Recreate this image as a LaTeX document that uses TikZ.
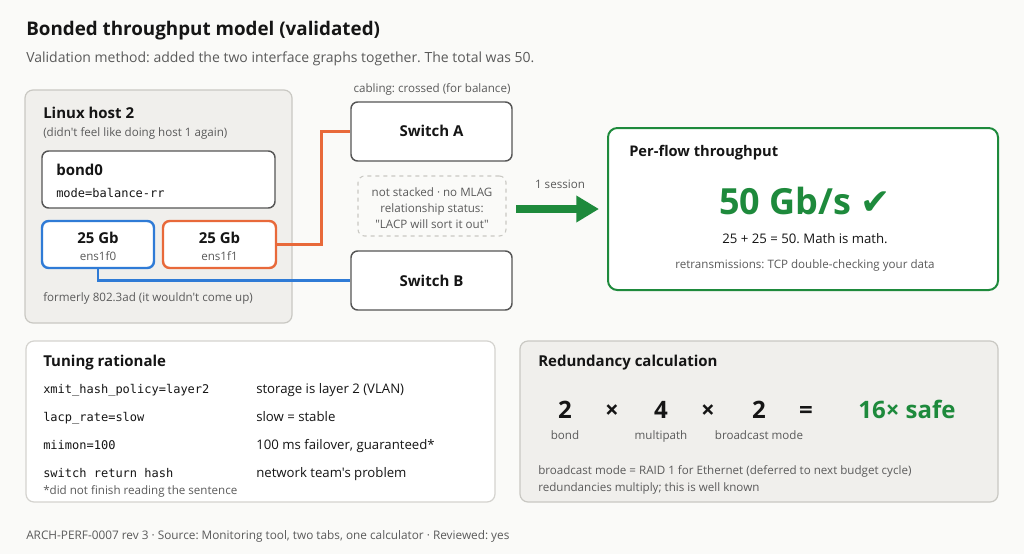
\documentclass[tikz,border=0pt]{standalone}
\usepackage{fontspec}
\setmainfont{Open Sans}[Ligatures=TeXOff]
\setmonofont{DejaVu Sans Mono}
\newfontfamily\symfont{DejaVu Sans}
\usetikzlibrary{arrows.meta}
\definecolor{bg}{HTML}{FAFAF8}
\definecolor{panel}{HTML}{F0EFEC}
\definecolor{panelborder}{HTML}{C9C8C3}
\definecolor{dark}{HTML}{555555}
\definecolor{bluel}{HTML}{2F7BD6}
\definecolor{orangel}{HTML}{E8693A}
\definecolor{greenl}{HTML}{1E8A3C}
\definecolor{graytxt}{HTML}{5A5A5A}
\definecolor{ink}{HTML}{151515}
\newcommand\fsz[1]{\fontsize{#1}{#1}\selectfont}
\newcommand\boxat[6]{\node[#1, inner sep=0pt, minimum width={(#5-#3)*0.75pt}, minimum height={(#6-#4)*0.75pt}] (#2) at ({(#3+#5)/2},{(#4+#6)/2}) {};}
\frenchspacing
\begin{document}
\begin{tikzpicture}[x=0.75pt,y=-0.75pt,
  panelbox/.style={draw=panelborder, fill=panel, line width=0.9pt, rounded corners=6pt},
  whitepanel/.style={draw=panelborder!80, fill=white, line width=0.9pt, rounded corners=6pt},
  wbox/.style={draw=dark, fill=white, line width=1.1pt, rounded corners=5pt},
  nicbox/.style={fill=white, line width=1.8pt, rounded corners=5pt},
  notebox/.style={draw=panelborder, dashed, fill=bg, line width=0.8pt, rounded corners=5pt},
  flowbox/.style={draw=greenl, fill=white, line width=1.5pt, rounded corners=7pt},
  t/.style={inner sep=0pt, text=ink},
  tl/.style={t, anchor=base west},
  tc/.style={t, anchor=base},
  head/.style={font=\bfseries\fsz{11.25pt}},
  small/.style={font=\fsz{8.7pt}, text=graytxt},
  mono/.style={font=\ttfamily\fsz{9pt}},
  body/.style={font=\fsz{9.9pt}},
  wire/.style={line width=2pt},
]
\fill[bg] (0,0) rectangle (1024,554);
\useasboundingbox (0,0) rectangle (1024,554);

% title
\node[tl, font=\bfseries\fsz{14.1pt}] (title) at (26,35) {Bonded throughput model (validated)};
\node[tl, font=\fsz{10.5pt}, text=graytxt] (subtitle) at (26,62) {Validation method: added the two interface graphs together. The total was 50.};

% Linux host panel
\boxat{panelbox}{host}{25}{90}{292}{323}
\node[tl, head] (hosttitle) at (43,118) {Linux host 2};
\node[tl, small] (hostsub) at (43,136) {(didn't feel like doing host 1 again)};
\boxat{wbox}{bond}{42}{151}{275}{208}
\node[tl, head] (bondname) at (56,175) {bond0};
\node[tl, mono] (bondmode) at (56,197) {mode=balance-rr};
\boxat{nicbox, draw=bluel}{nicA}{42}{221}{154}{268}
\node[tc, head] (nicAs) at (98,243) {25 Gb};
\node[tc, small] (nicAn) at (98,260) {ens1f0};
\boxat{nicbox, draw=orangel}{nicB}{163}{221}{276}{268}
\node[tc, head] (nicBs) at (219.5,243) {25 Gb};
\node[tc, small] (nicBn) at (219.5,260) {ens1f1};
\node[tl, small] (hostfoot) at (43,301) {formerly 802.3ad (it wouldn't come up)};

% switches
\node[tc, small] (cabling) at (432,92) {cabling: crossed (for balance)};
\boxat{wbox}{swA}{351}{102}{512}{161}
\node[tc, head] (swAl) at (431.5,136) {Switch A};
\boxat{notebox}{note}{358}{176}{506}{236}
\node[tc, small] (note1) at (432,196) {not stacked · no MLAG};
\node[tc, small] (note2) at (432,212) {relationship status:};
\node[tc, small] (note3) at (432,228) {"LACP will sort it out"};
\boxat{wbox}{swB}{351}{251}{512}{310}
\node[tc, head] (swBl) at (431.5,286) {Switch B};

% cables
\draw[wire, orangel] (nicB.east) -- ++(44,0) |- (swA.west);
\draw[wire, bluel] (nicA.south) |- (swB.west);

% per-flow box
\boxat{flowbox}{flow}{608}{128}{998}{290}
\coordinate (arrowstart) at (516,209);
\node[tc, small] (session) at (560,188) {1 session};
\draw[line width=6pt, greenl, -{Triangle[length=17pt,width=19pt]}] (arrowstart) -- ([xshift=-6pt]flow.west);
\node[tl, font=\bfseries\fsz{11pt}] (flowtitle) at (629,156) {Per-flow throughput};
\node[tc, font=\bfseries\fsz{27pt}, text=greenl] (flowbig) at (805,214) {50 Gb/s {\symfont\bfseries ✔}};
\node[tc, body] (flowmath) at (805,243) {25 + 25 = 50. Math is math.};
\node[tc, small] (flowretx) at (805,268) {retransmissions: TCP double-checking your data};

% Tuning rationale
\boxat{whitepanel}{tuning}{26}{341}{495}{502}
\node[tl, head] (tunetitle) at (43,366) {Tuning rationale};
\node[tl, mono] (k1) at (43,393) {xmit\_hash\_policy=layer2};
\node[tl, body] (v1) at (256,393) {storage is layer 2 (VLAN)};
\node[tl, mono] (k2) at (43,421) {lacp\_rate=slow};
\node[tl, body] (v2) at (256,421) {slow = stable};
\node[tl, mono] (k3) at (43,449) {miimon=100};
\node[tl, body] (v3) at (256,449) {100 ms failover, guaranteed*};
\node[tl, mono] (k4) at (43,477) {switch return hash};
\node[tl, body] (v4) at (256,477) {network team's problem};
\node[tl, small] (tunefoot) at (43,494) {*did not finish reading the sentence};

% Redundancy
\boxat{panelbox}{redund}{520}{341}{998}{502}
\node[tl, head] (redtitle) at (538,366) {Redundancy calculation};
\node[tc, font=\bfseries\fsz{18pt}] (n1) at (565,418) {2};
\node[tc, font=\bfseries\fsz{18pt}] (x1) at (612,418) {×};
\node[tc, font=\bfseries\fsz{18pt}] (n2) at (661,418) {4};
\node[tc, font=\bfseries\fsz{18pt}] (x2) at (708,418) {×};
\node[tc, font=\bfseries\fsz{18pt}] (n3) at (759,418) {2};
\node[tc, font=\bfseries\fsz{18pt}] (eq) at (806,418) {=};
\node[tc, font=\bfseries\fsz{18pt}, text=greenl] (res) at (907,418) {16× safe};
\node[tc, small] (l1) at (565,439) {bond};
\node[tc, small] (l2) at (661,439) {multipath};
\node[tc, small] (l3) at (759,439) {broadcast mode};
\node[tl, small] (rn1) at (538,474) {broadcast mode = RAID 1 for Ethernet (deferred to next budget cycle)};
\node[tl, small] (rn2) at (538,491) {redundancies multiply; this is well known};

% footer
\node[tl, small, font=\fsz{8.85pt}] (footer) at (26,539) {ARCH-PERF-0007 rev 3 · Source: Monitoring tool, two tabs, one calculator · Reviewed: yes};
\end{tikzpicture}
\end{document}
